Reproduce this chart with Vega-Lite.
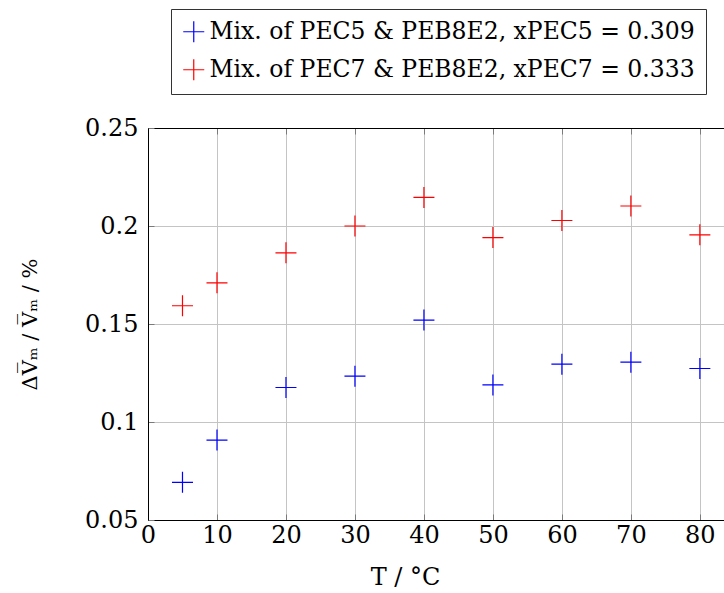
{
  "$schema": "https://vega.github.io/schema/vega-lite/v6.json",
  "autosize": "none",
  "padding": {"left": 148, "top": 128, "right": 0, "bottom": 73},
  "width": 576,
  "height": 392,
  "config": {
    "font": "DejaVu Serif",
    "view": {"stroke": null},
    "axis": {
      "labelFont": "DejaVu Serif",
      "titleFont": "DejaVu Serif",
      "labelFontSize": 24,
      "labelColor": "black",
      "titleColor": "black",
      "titleFontWeight": "normal",
      "domainColor": "black",
      "domainWidth": 1,
      "gridColor": "#c4c4c4",
      "gridWidth": 1,
      "gridOpacity": 1,
      "tickColor": "#7a7a7a",
      "tickSize": -6,
      "tickWidth": 1
    }
  },
  "data": {
    "values": [
      {"T": 5, "v": 0.0692, "series": "PEC5"},
      {"T": 10, "v": 0.0908, "series": "PEC5"},
      {"T": 20, "v": 0.1176, "series": "PEC5"},
      {"T": 30, "v": 0.1234, "series": "PEC5"},
      {"T": 40, "v": 0.152, "series": "PEC5"},
      {"T": 50, "v": 0.1189, "series": "PEC5"},
      {"T": 60, "v": 0.1295, "series": "PEC5"},
      {"T": 70, "v": 0.1305, "series": "PEC5"},
      {"T": 80, "v": 0.1273, "series": "PEC5"},
      {"T": 5, "v": 0.1593, "series": "PEC7"},
      {"T": 10, "v": 0.171, "series": "PEC7"},
      {"T": 20, "v": 0.1863, "series": "PEC7"},
      {"T": 30, "v": 0.2, "series": "PEC7"},
      {"T": 40, "v": 0.2146, "series": "PEC7"},
      {"T": 50, "v": 0.1941, "series": "PEC7"},
      {"T": 60, "v": 0.2028, "series": "PEC7"},
      {"T": 70, "v": 0.2102, "series": "PEC7"},
      {"T": 80, "v": 0.1955, "series": "PEC7"}
    ]
  },
  "resolve": {"axis": {"x": "independent"}},
  "layer": [
    {
      "mark": {"type": "point", "shape": "M-1,0L1,0M0,-1L0,1", "filled": false, "size": 441, "strokeWidth": 1.2, "opacity": 1},
      "encoding": {
        "x": {
          "field": "T", "type": "quantitative",
          "scale": {"domain": [0, 83.5], "nice": false, "zero": false},
          "axis": {"values": [0, 10, 20, 30, 40, 50, 60, 70, 80], "labelPadding": 9, "title": "T / °C", "titleFontSize": 24, "titlePadding": 18, "titleX": 257, "labelFlush": false}
        },
        "y": {
          "field": "v", "type": "quantitative",
          "scale": {"domain": [0.05, 0.25], "nice": false, "zero": false},
          "axis": {"values": [0.05, 0.1, 0.15, 0.2, 0.25], "format": ".2~f", "labelPadding": 16, "title": "ΔV̅ₘ / V̅ₘ / %", "titleFontSize": 21, "titlePadding": 44}
        },
        "color": {
          "field": "series", "type": "nominal",
          "scale": {"domain": ["PEC5", "PEC7"], "range": ["#0000ff", "#ff0000"]},
          "legend": {
            "orient": "none",
            "legendX": 23,
            "legendY": -119,
            "title": null,
            "direction": "vertical",
            "strokeColor": "#333333",
            "fillColor": "white",
            "padding": 11,
            "rowPadding": 11,
            "symbolType": "M-1,0L1,0M0,-1L0,1",
            "symbolSize": 441,
            "symbolStrokeWidth": 1.2,
            "symbolOffset": 0,
            "labelFont": "DejaVu Serif",
            "labelFontSize": 23.5,
            "labelColor": "black",
            "labelLimit": 700,
            "labelOffset": 4,
            "labelExpr": "datum.value == 'PEC5' ? 'Mix. of PEC5 & PEB8E2, xPEC5 = 0.309' : 'Mix. of PEC7 & PEB8E2, xPEC7 = 0.333'"
          }
        }
      }
    },
    {
      "mark": {"type": "point", "opacity": 0},
      "encoding": {
        "x": {
          "field": "T", "type": "quantitative",
          "axis": {"orient": "top", "values": [0, 10, 20, 30, 40, 50, 60, 70, 80], "labels": false, "grid": false, "title": null}
        },
        "y": {"field": "v", "type": "quantitative"}
      }
    }
  ]
}
